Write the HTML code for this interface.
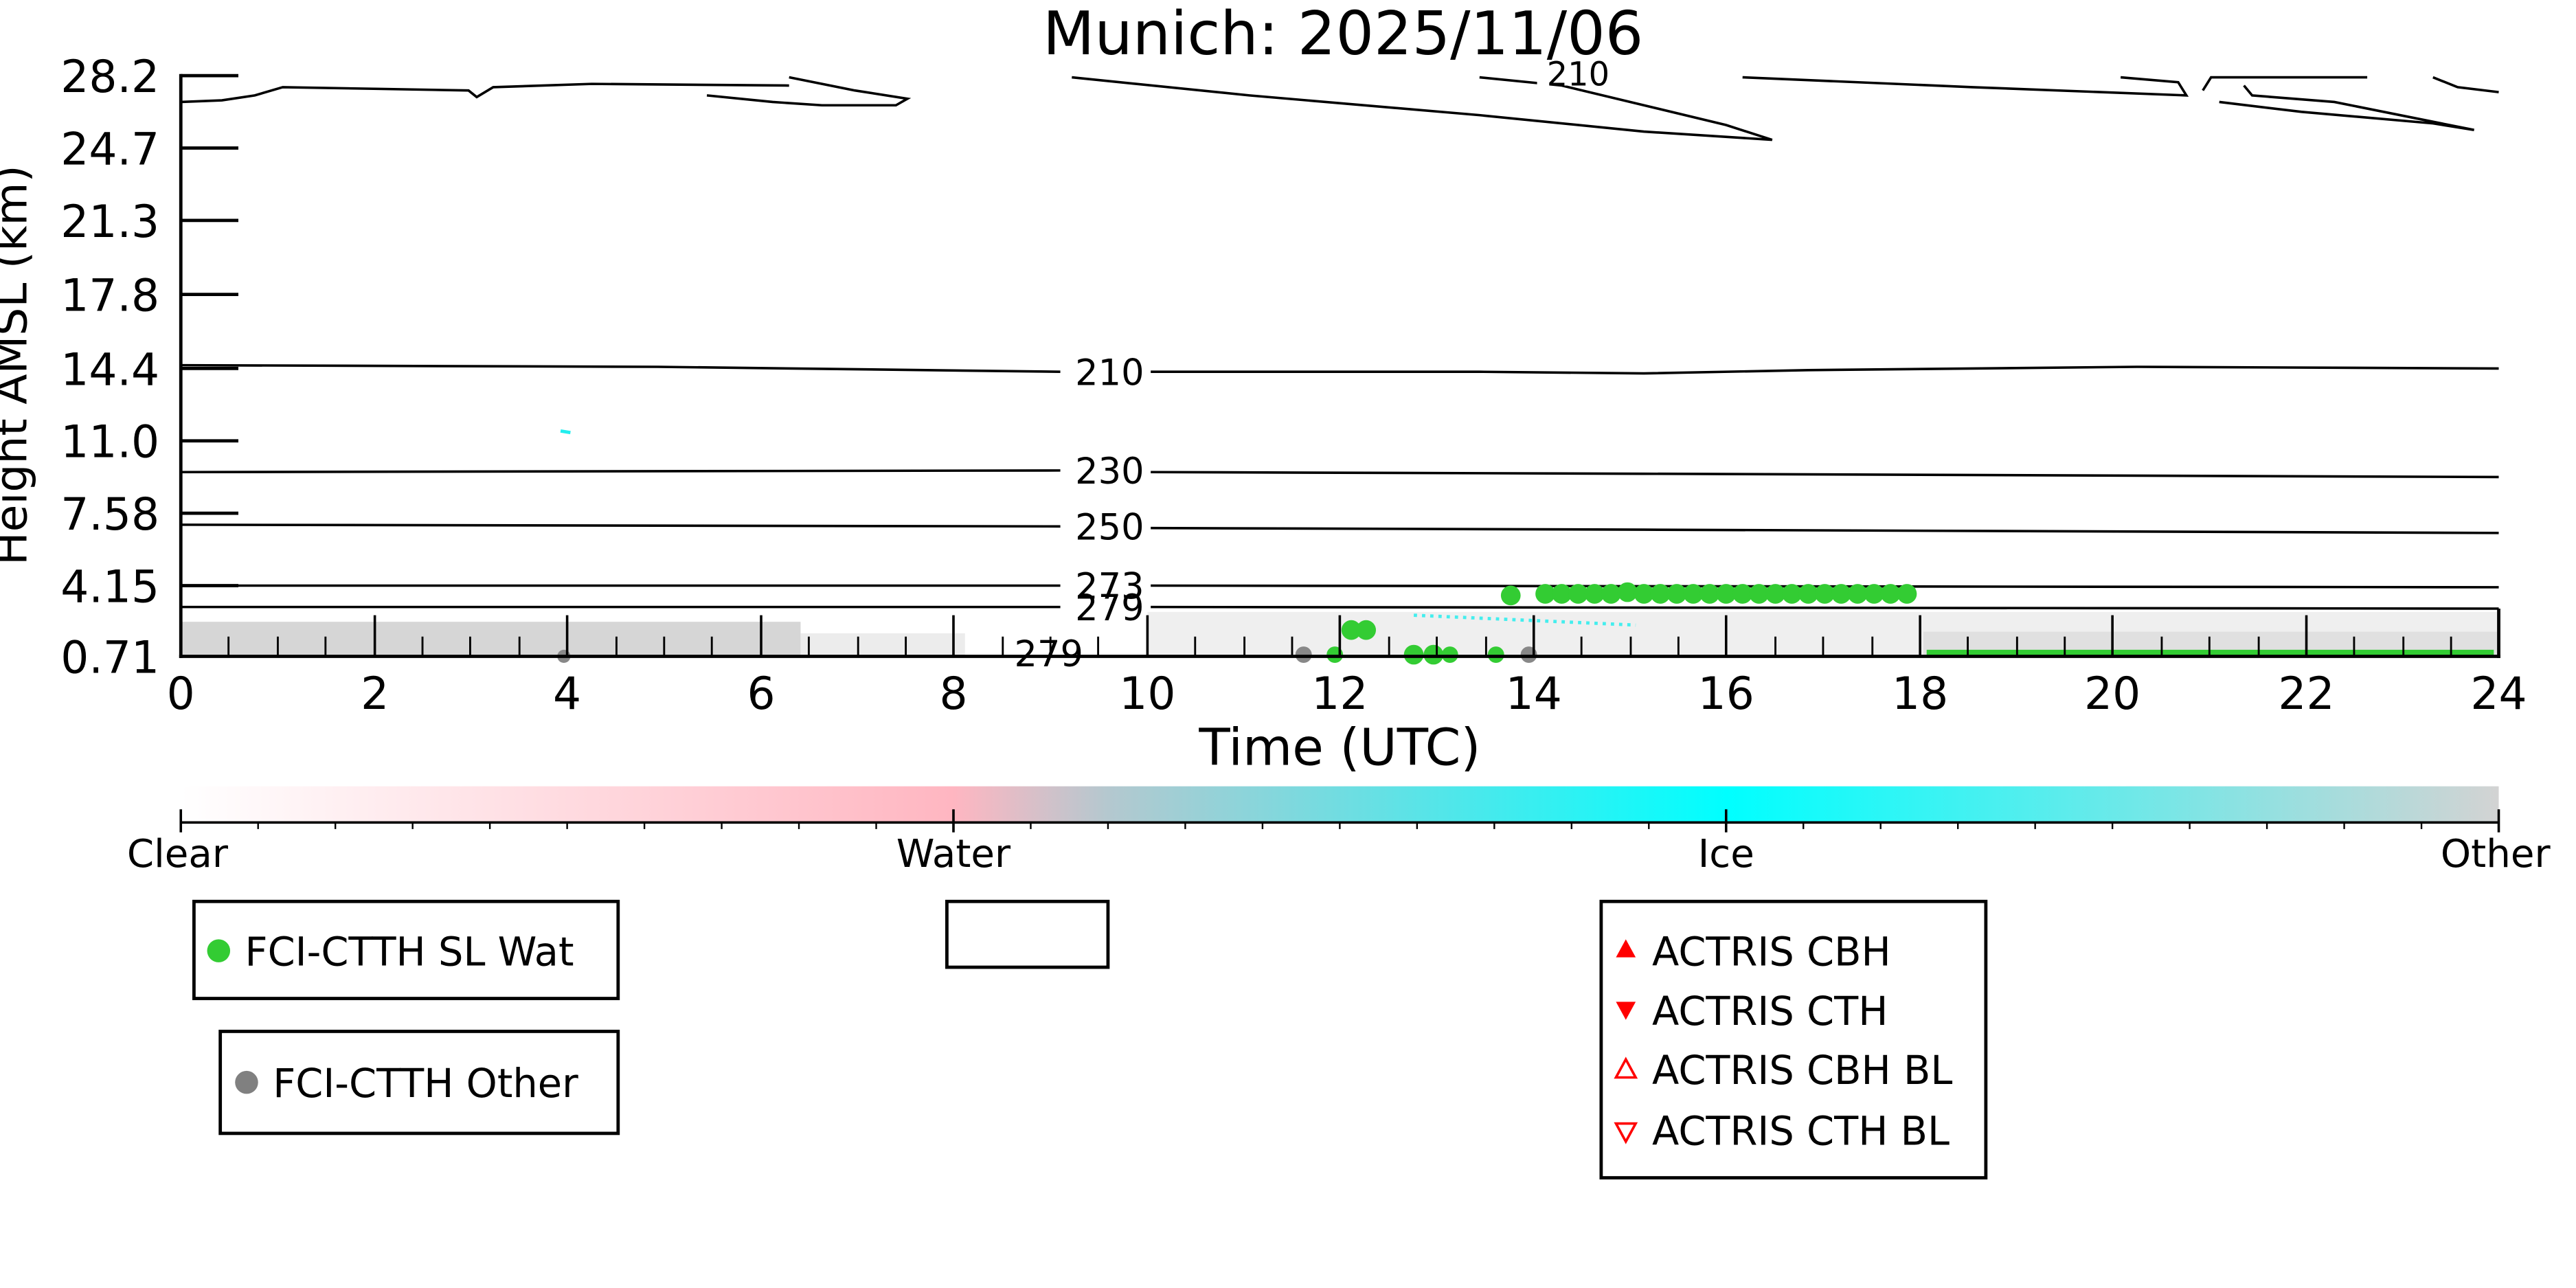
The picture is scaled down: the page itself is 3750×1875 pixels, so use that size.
<!DOCTYPE html>
<html><head><meta charset="utf-8"><style>
html,body{margin:0;padding:0;background:#fff;}
svg{display:block;}
text{font-family:"DejaVu Sans","Liberation Sans",sans-serif;fill:#000;}
</style></head><body>
<svg width="3750" height="1875" viewBox="0 0 1567 783" preserveAspectRatio="none" xmlns="http://www.w3.org/2000/svg">
<defs>
<linearGradient id="cb" x1="0" x2="1" y1="0" y2="0">
<stop offset="0" stop-color="#ffffff"/>
<stop offset="0.333" stop-color="#ffb6c1"/>
<stop offset="0.4" stop-color="#b4c8cf"/>
<stop offset="0.667" stop-color="#00ffff"/>
<stop offset="1" stop-color="#d3d3d3"/>
</linearGradient>
</defs>
<rect width="1567" height="783" fill="#fff"/>
<text x="817" y="33" font-size="36.5" text-anchor="middle">Munich: 2025/11/06</text>

<rect x="110" y="378" width="377" height="21" fill="#d6d6d6"/>
<rect x="487" y="385" width="100" height="14" fill="#ececec"/>
<rect x="698" y="372" width="822" height="27" fill="#efefef"/>
<rect x="1170" y="384" width="350" height="15" fill="#e0e0e0"/>
<line x1="860" y1="374" x2="995" y2="380" stroke="#4ee" stroke-width="2" stroke-dasharray="2 3"/>
<line x1="341" y1="262" x2="347" y2="263" stroke="#2ee" stroke-width="2"/>

<g fill="none" stroke="#000" stroke-width="1.5">
<path d="M110 62 L135 61 L155 58 L172 53 L285 55 L290 59 L300 53 L360 51 L480 52"/>
<path d="M480 47 L520 55 L552 60 L545 64 L500 64 L470 62 L430 58"/>
<path d="M652 47 L760 58 L900 70 L1000 80 L1078 85 L1050 76 L1000 64 L950 52 L900 47"/>
<path d="M1060 47 L1200 53 L1330 58 L1325 50 L1290 47"/>
<path d="M1340 55 L1345 47 L1440 47"/>
<path d="M1365 52 L1370 58 L1420 62 L1505 79 L1480 75 L1400 68 L1350 62"/>
<path d="M1480 47 L1495 53 L1520 56"/>
<path d="M110 222 L400 223 L645 226"/><path d="M700 226 L900 226 L1000 227 L1100 225 L1200 224 L1300 223 L1520 224"/>
<path d="M110 287 L645 286"/><path d="M700 287 L1000 288 L1520 290"/>
<path d="M110 319 L645 320"/><path d="M700 321 L1000 322 L1520 324"/>
<path d="M110 356 L645 356"/><path d="M700 356 L1520 357"/>
<path d="M110 369 L645 369"/><path d="M700 369 L1520 370"/>
</g>
<rect x="935" y="40" width="50" height="12" fill="#fff"/>
<text x="960" y="52" font-size="20" text-anchor="middle">210</text>
<g font-size="22" text-anchor="middle">
<text x="675" y="234">210</text>
<text x="675" y="294">230</text>
<text x="675" y="328">250</text>
<text x="675" y="364">273</text>
<text x="675" y="377">279</text>
<text x="638" y="405">279</text>
</g>

<g fill="#33cc33">
<circle cx="919" cy="362" r="6"/>
<circle cx="940" cy="361" r="6"/><circle cx="950" cy="361" r="6"/><circle cx="960" cy="361" r="6"/><circle cx="970" cy="361" r="6"/><circle cx="980" cy="361" r="6"/><circle cx="990" cy="360" r="6"/><circle cx="1000" cy="361" r="6"/><circle cx="1010" cy="361" r="6"/><circle cx="1020" cy="361" r="6"/><circle cx="1030" cy="361" r="6"/><circle cx="1040" cy="361" r="6"/><circle cx="1050" cy="361" r="6"/><circle cx="1060" cy="361" r="6"/><circle cx="1070" cy="361" r="6"/><circle cx="1080" cy="361" r="6"/><circle cx="1090" cy="361" r="6"/><circle cx="1100" cy="361" r="6"/><circle cx="1110" cy="361" r="6"/><circle cx="1120" cy="361" r="6"/><circle cx="1130" cy="361" r="6"/><circle cx="1140" cy="361" r="6"/><circle cx="1150" cy="361" r="6"/><circle cx="1160" cy="361" r="6"/>
<circle cx="822" cy="383" r="6"/><circle cx="831" cy="383" r="6"/>
<circle cx="812" cy="398" r="5"/><circle cx="860" cy="398" r="6"/><circle cx="872" cy="398" r="6"/><circle cx="882" cy="398" r="5"/><circle cx="910" cy="398" r="5"/>
<rect x="1172" y="395" width="345" height="4"/>
</g>
<circle cx="793" cy="398" r="5" fill="#888"/>
<circle cx="930" cy="398" r="5" fill="#888"/>
<circle cx="343" cy="399" r="4" fill="#888"/>

<g stroke="#000" stroke-width="2">
<line x1="110" y1="45" x2="110" y2="400"/>
<line x1="109" y1="399" x2="1521" y2="399"/>
<line x1="1520" y1="370" x2="1520" y2="400"/>
<line x1="110" y1="46" x2="145" y2="46"/>
<line x1="110" y1="90" x2="145" y2="90"/>
<line x1="110" y1="134" x2="145" y2="134"/>
<line x1="110" y1="179" x2="145" y2="179"/>
<line x1="110" y1="224" x2="145" y2="224"/>
<line x1="110" y1="268" x2="145" y2="268"/>
<line x1="110" y1="312" x2="145" y2="312"/>
<line x1="110" y1="356" x2="145" y2="356"/>
</g>
<g stroke="#000" stroke-width="1.5">
<line x1="228" y1="374" x2="228" y2="399"/><line x1="345" y1="374" x2="345" y2="399"/><line x1="463" y1="374" x2="463" y2="399"/><line x1="580" y1="374" x2="580" y2="399"/><line x1="698" y1="374" x2="698" y2="399"/><line x1="815" y1="374" x2="815" y2="399"/><line x1="933" y1="374" x2="933" y2="399"/><line x1="1050" y1="374" x2="1050" y2="399"/><line x1="1168" y1="374" x2="1168" y2="399"/><line x1="1285" y1="374" x2="1285" y2="399"/><line x1="1403" y1="374" x2="1403" y2="399"/>
</g>
<g stroke="#000" stroke-width="1.2">
<line x1="139" y1="387" x2="139" y2="399"/><line x1="169" y1="387" x2="169" y2="399"/><line x1="198" y1="387" x2="198" y2="399"/><line x1="257" y1="387" x2="257" y2="399"/><line x1="286" y1="387" x2="286" y2="399"/><line x1="316" y1="387" x2="316" y2="399"/><line x1="375" y1="387" x2="375" y2="399"/><line x1="404" y1="387" x2="404" y2="399"/><line x1="433" y1="387" x2="433" y2="399"/><line x1="492" y1="387" x2="492" y2="399"/><line x1="522" y1="387" x2="522" y2="399"/><line x1="551" y1="387" x2="551" y2="399"/><line x1="610" y1="387" x2="610" y2="399"/><line x1="639" y1="387" x2="639" y2="399"/><line x1="668" y1="387" x2="668" y2="399"/><line x1="727" y1="387" x2="727" y2="399"/><line x1="757" y1="387" x2="757" y2="399"/><line x1="786" y1="387" x2="786" y2="399"/><line x1="845" y1="387" x2="845" y2="399"/><line x1="874" y1="387" x2="874" y2="399"/><line x1="904" y1="387" x2="904" y2="399"/><line x1="962" y1="387" x2="962" y2="399"/><line x1="992" y1="387" x2="992" y2="399"/><line x1="1021" y1="387" x2="1021" y2="399"/><line x1="1080" y1="387" x2="1080" y2="399"/><line x1="1109" y1="387" x2="1109" y2="399"/><line x1="1139" y1="387" x2="1139" y2="399"/><line x1="1197" y1="387" x2="1197" y2="399"/><line x1="1227" y1="387" x2="1227" y2="399"/><line x1="1256" y1="387" x2="1256" y2="399"/><line x1="1315" y1="387" x2="1315" y2="399"/><line x1="1344" y1="387" x2="1344" y2="399"/><line x1="1374" y1="387" x2="1374" y2="399"/><line x1="1432" y1="387" x2="1432" y2="399"/><line x1="1462" y1="387" x2="1462" y2="399"/><line x1="1491" y1="387" x2="1491" y2="399"/>
</g>

<g font-size="27" text-anchor="end">
<text x="97" y="56">28.2</text><text x="97" y="100">24.7</text><text x="97" y="144">21.3</text><text x="97" y="189">17.8</text><text x="97" y="234">14.4</text><text x="97" y="278">11.0</text><text x="97" y="322">7.58</text><text x="97" y="366">4.15</text><text x="97" y="409">0.71</text>
</g>
<text transform="translate(16,222) rotate(-90)" font-size="27" text-anchor="middle">Height AMSL (km)</text>
<g font-size="27" text-anchor="middle">
<text x="110" y="431">0</text><text x="228" y="431">2</text><text x="345" y="431">4</text><text x="463" y="431">6</text><text x="580" y="431">8</text><text x="698" y="431">10</text><text x="815" y="431">12</text><text x="933" y="431">14</text><text x="1050" y="431">16</text><text x="1168" y="431">18</text><text x="1285" y="431">20</text><text x="1403" y="431">22</text><text x="1520" y="431">24</text>
</g>
<text x="815" y="465" font-size="31" text-anchor="middle">Time (UTC)</text>

<rect x="110" y="478" width="1410" height="22" fill="url(#cb)"/>
<line x1="110" y1="500" x2="1520" y2="500" stroke="#000" stroke-width="1.5"/>
<g stroke="#000" stroke-width="1.5">
<line x1="110" y1="492" x2="110" y2="506"/><line x1="580" y1="492" x2="580" y2="506"/><line x1="1050" y1="492" x2="1050" y2="506"/><line x1="1520" y1="492" x2="1520" y2="506"/>
</g>
<g stroke="#000" stroke-width="1">
<line x1="157" y1="500" x2="157" y2="504"/><line x1="204" y1="500" x2="204" y2="504"/><line x1="251" y1="500" x2="251" y2="504"/><line x1="298" y1="500" x2="298" y2="504"/><line x1="345" y1="500" x2="345" y2="504"/><line x1="392" y1="500" x2="392" y2="504"/><line x1="439" y1="500" x2="439" y2="504"/><line x1="486" y1="500" x2="486" y2="504"/><line x1="533" y1="500" x2="533" y2="504"/><line x1="627" y1="500" x2="627" y2="504"/><line x1="674" y1="500" x2="674" y2="504"/><line x1="721" y1="500" x2="721" y2="504"/><line x1="768" y1="500" x2="768" y2="504"/><line x1="815" y1="500" x2="815" y2="504"/><line x1="862" y1="500" x2="862" y2="504"/><line x1="909" y1="500" x2="909" y2="504"/><line x1="956" y1="500" x2="956" y2="504"/><line x1="1003" y1="500" x2="1003" y2="504"/><line x1="1097" y1="500" x2="1097" y2="504"/><line x1="1144" y1="500" x2="1144" y2="504"/><line x1="1191" y1="500" x2="1191" y2="504"/><line x1="1238" y1="500" x2="1238" y2="504"/><line x1="1285" y1="500" x2="1285" y2="504"/><line x1="1332" y1="500" x2="1332" y2="504"/><line x1="1379" y1="500" x2="1379" y2="504"/><line x1="1426" y1="500" x2="1426" y2="504"/><line x1="1473" y1="500" x2="1473" y2="504"/>
</g>
<g font-size="23.5" text-anchor="middle">
<text x="108" y="527">Clear</text><text x="580" y="527">Water</text><text x="1050" y="527">Ice</text><text x="1518" y="527">Other</text>
</g>

<g fill="#fff" stroke="#000" stroke-width="2">
<rect x="118" y="548" width="258" height="59"/>
<rect x="134" y="627" width="242" height="62"/>
<rect x="576" y="548" width="98" height="40"/>
<rect x="974" y="548" width="234" height="168"/>
</g>
<g font-size="24">
<circle cx="133" cy="578" r="7" fill="#33cc33"/>
<text x="149" y="587">FCI-CTTH SL Wat</text>
<circle cx="150" cy="658" r="7" fill="#808080"/>
<text x="166" y="667">FCI-CTTH Other</text>
<polygon points="989,571 995,582 983,582" fill="#f00"/>
<text x="1005" y="587">ACTRIS CBH</text>
<polygon points="983,609 995,609 989,620" fill="#f00"/>
<text x="1005" y="623">ACTRIS CTH</text>
<polygon points="989,644 995,655 983,655" fill="none" stroke="#f00" stroke-width="1.5"/>
<text x="1005" y="659">ACTRIS CBH BL</text>
<polygon points="983,683 995,683 989,694" fill="none" stroke="#f00" stroke-width="1.5"/>
<text x="1005" y="696">ACTRIS CTH BL</text>
</g>
</svg>
</body></html>
